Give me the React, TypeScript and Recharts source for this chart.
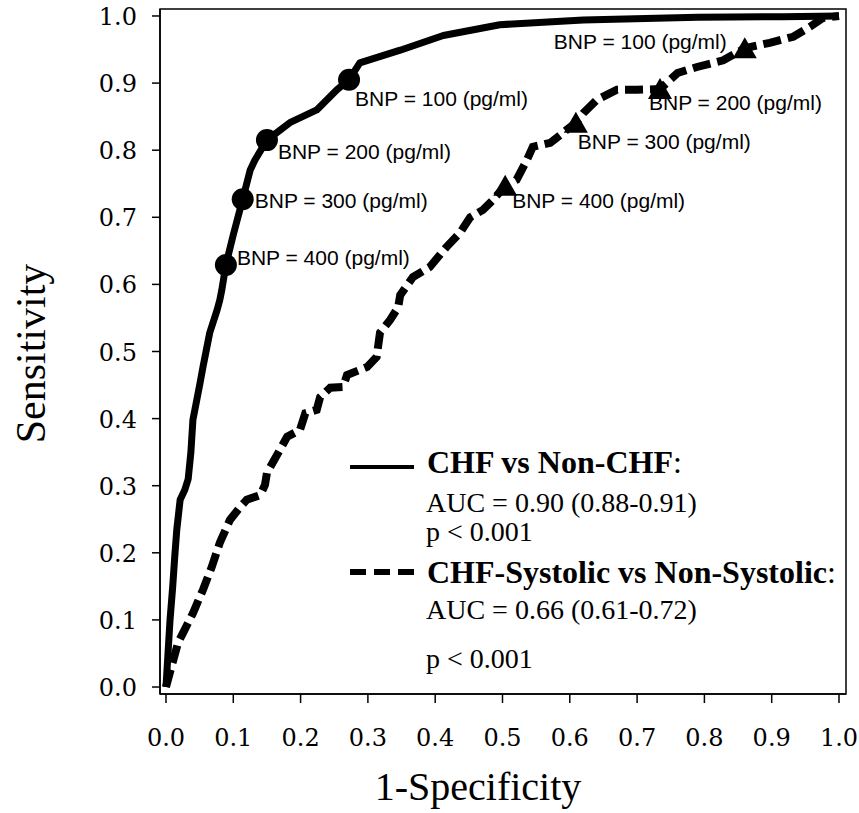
import React from 'react';
import { ComposedChart, Line, Scatter, XAxis, YAxis, ReferenceArea, Label } from 'recharts';

// ---- data ----
const axisTicks = [0, 0.1, 0.2, 0.3, 0.4, 0.5, 0.6, 0.7, 0.8, 0.9, 1.0];

// CHF vs Non-CHF ROC curve (1-specificity, sensitivity)
const chfFpr = [0, 0.003, 0.006, 0.010, 0.013, 0.016, 0.021, 0.028, 0.033, 0.037, 0.040, 0.050, 0.055, 0.065, 0.076, 0.080, 0.083, 0.089, 0.100, 0.114, 0.125, 0.132, 0.150, 0.184, 0.224, 0.254, 0.272, 0.288, 0.348, 0.412, 0.496, 0.620, 0.790, 0.917, 1.0];
const chfTpr = [0, 0.050, 0.100, 0.150, 0.194, 0.234, 0.279, 0.294, 0.310, 0.350, 0.398, 0.450, 0.477, 0.528, 0.562, 0.577, 0.592, 0.629, 0.674, 0.727, 0.770, 0.785, 0.815, 0.841, 0.860, 0.890, 0.905, 0.930, 0.949, 0.971, 0.987, 0.994, 0.998, 0.999, 1.0];

// CHF-Systolic vs Non-Systolic ROC curve
const sysFpr = [0, 0.008, 0.018, 0.025, 0.040, 0.055, 0.068, 0.080, 0.095, 0.110, 0.120, 0.140, 0.147, 0.150, 0.169, 0.180, 0.199, 0.207, 0.224, 0.229, 0.244, 0.263, 0.269, 0.299, 0.313, 0.318, 0.333, 0.345, 0.348, 0.367, 0.392, 0.417, 0.437, 0.452, 0.471, 0.486, 0.504, 0.521, 0.536, 0.545, 0.571, 0.590, 0.609, 0.620, 0.640, 0.670, 0.700, 0.734, 0.760, 0.789, 0.828, 0.860, 0.897, 0.932, 0.957, 0.976, 1.0];
const sysTpr = [0, 0.030, 0.066, 0.080, 0.110, 0.145, 0.179, 0.215, 0.249, 0.268, 0.279, 0.286, 0.301, 0.319, 0.353, 0.373, 0.383, 0.408, 0.413, 0.432, 0.446, 0.447, 0.465, 0.477, 0.492, 0.528, 0.547, 0.566, 0.584, 0.611, 0.626, 0.656, 0.677, 0.700, 0.711, 0.726, 0.747, 0.756, 0.785, 0.805, 0.811, 0.826, 0.841, 0.855, 0.875, 0.890, 0.890, 0.891, 0.915, 0.924, 0.934, 0.952, 0.960, 0.969, 0.984, 0.997, 1.0];

// BNP cut-off points
const bnpCutoffs = [100, 200, 300, 400];
const chfCutFpr = [0.272, 0.150, 0.114, 0.089];
const chfCutTpr = [0.905, 0.815, 0.727, 0.629];
const sysCutFpr = [0.860, 0.734, 0.609, 0.504];
const sysCutTpr = [0.952, 0.891, 0.841, 0.747];

const chfData = chfFpr.map((x, i) => ({ x, y: chfTpr[i] }));
const sysData = sysFpr.map((x, i) => ({ x, y: sysTpr[i] }));
const chfCuts = bnpCutoffs.map((bnp, i) => ({ bnp, x: chfCutFpr[i], y: chfCutTpr[i] }));
const sysCuts = bnpCutoffs.map((bnp, i) => ({ bnp, x: sysCutFpr[i], y: sysCutTpr[i] }));

// ---- layout / style ----
const X_DOMAIN: [number, number] = [-0.0089, 1.0104];
const Y_DOMAIN: [number, number] = [-0.0104, 1.0104];
const SERIF = '"Liberation Serif", "Times New Roman", serif';
const TICK_FONT = '"DejaVu Serif", serif';
const SANS = '"Liberation Sans", Arial, sans-serif';

// label offsets (dx, dy, anchor) relative to marker centre
const chfLabelPos: Record<number, [number, number, string]> = {
  100: [6, 26, 'start'],
  200: [11, 19, 'start'],
  300: [12, 9, 'start'],
  400: [11, 0, 'start'],
};
const sysLabelPos: Record<number, [number, number, string]> = {
  100: [-18, 1, 'end'],
  200: [-11, 21, 'start'],
  300: [2, 26, 'start'],
  400: [7, 22, 'start'],
};

const bnpText = (v: number) => `BNP = ${v} (pg/ml)`;

const CircleMarker = (props: any) => {
  const { cx, cy, payload } = props;
  const [dx, dy, anchor] = chfLabelPos[payload.bnp];
  return (
    <g>
      <circle cx={cx} cy={cy} r={11} fill="#000" />
      <text x={cx + dx} y={cy + dy} textAnchor={anchor as any} fontFamily={SANS} fontSize={21} fill="#000">
        {bnpText(payload.bnp)}
      </text>
    </g>
  );
};

const TriangleMarker = (props: any) => {
  const { cx, cy, payload } = props;
  const [dx, dy, anchor] = sysLabelPos[payload.bnp];
  const pts = `${cx},${cy - 11} ${cx - 12},${cy + 10} ${cx + 12},${cy + 10}`;
  return (
    <g>
      <polygon points={pts} fill="#000" />
      <text x={cx + dx} y={cy + dy} textAnchor={anchor as any} fontFamily={SANS} fontSize={21} fill="#000">
        {bnpText(payload.bnp)}
      </text>
    </g>
  );
};

const XTick = (props: any) => {
  const { x, y, payload } = props;
  return (
    <text x={x} y={y + 41} textAnchor="middle" fontFamily={TICK_FONT} fontSize={24} fill="#000">
      {Number(payload.value).toFixed(1)}
    </text>
  );
};

const YTick = (props: any) => {
  const { x, y, payload } = props;
  return (
    <text x={x - 13} y={y + 9} textAnchor="end" fontFamily={TICK_FONT} fontSize={24} fill="#000">
      {Number(payload.value).toFixed(1)}
    </text>
  );
};

const XLabel = (props: any) => {
  const vb = props.viewBox || { x: 160, y: 694, width: 686, height: 60 };
  return (
    <text x={vb.x + vb.width / 2 - 25} y={vb.y + 106} textAnchor="middle" fontFamily={SERIF} fontSize={40} fill="#000">
      1-Specificity
    </text>
  );
};

const YLabel = (props: any) => {
  const vb = props.viewBox || { x: 100, y: 9, width: 60, height: 685 };
  const x = vb.x - 55;
  const y = vb.y + vb.height / 2 + 2;
  return (
    <text x={x} y={y} transform={`rotate(-90, ${x}, ${y})`} textAnchor="middle" fontFamily={SERIF} fontSize={42} fill="#000">
      Sensitivity
    </text>
  );
};

const LegendBlock = () => (
  <g>
    <line x1={350} x2={414} y1={467} y2={467} stroke="#000" strokeWidth={4} />
    <text x={427} y={473} fontFamily={SERIF} fontSize={32} fill="#000">
      <tspan fontWeight="bold">CHF vs Non-CHF</tspan>
      <tspan>:</tspan>
    </text>
    <text x={426} y={512} fontFamily={SERIF} fontSize={28} fill="#000">AUC = 0.90 (0.88-0.91)</text>
    <text x={426} y={541} fontFamily={SERIF} fontSize={28} fill="#000">p &lt; 0.001</text>

    <line x1={350} x2={414} y1={572} y2={572} stroke="#000" strokeWidth={6} strokeDasharray="16 8" />
    <text x={427} y={583} fontFamily={SERIF} fontSize={32} fill="#000">
      <tspan fontWeight="bold">CHF-Systolic vs Non-Systolic</tspan>
      <tspan>:</tspan>
    </text>
    <text x={426} y={619} fontFamily={SERIF} fontSize={28} fill="#000">AUC = 0.66 (0.61-0.72)</text>
    <text x={426} y={668} fontFamily={SERIF} fontSize={28} fill="#000">p &lt; 0.001</text>
  </g>
);

export default function App() {
  return (
    <div style={{ position: 'absolute', left: 0, top: 0, width: 859, height: 813, background: '#fff' }}>
      <ComposedChart width={859} height={813} margin={{ top: 9, right: 13, bottom: 59, left: 100 }}>
        <XAxis
          type="number"
          dataKey="x"
          domain={X_DOMAIN}
          ticks={axisTicks}
          allowDataOverflow
          height={60}
          tickSize={9}
          tick={<XTick />}
          axisLine={{ stroke: '#000', strokeWidth: 1.5 }}
          tickLine={{ stroke: '#000', strokeWidth: 1.5 }}
          label={<Label content={<XLabel />} />}
        />
        <YAxis
          type="number"
          dataKey="y"
          domain={Y_DOMAIN}
          ticks={axisTicks}
          allowDataOverflow
          width={60}
          tickSize={8}
          tick={<YTick />}
          axisLine={{ stroke: '#000', strokeWidth: 1.5 }}
          tickLine={{ stroke: '#000', strokeWidth: 1.5 }}
          label={<Label content={<YLabel />} />}
        />
        <ReferenceArea
          x1={X_DOMAIN[0]}
          x2={X_DOMAIN[1]}
          y1={Y_DOMAIN[0]}
          y2={Y_DOMAIN[1]}
          fill="none"
          fillOpacity={0}
          stroke="#000"
          strokeWidth={1.5}
          ifOverflow="visible"
        />
        <Line
          data={sysData}
          dataKey="y"
          type="linear"
          stroke="#000"
          strokeWidth={8}
          strokeDasharray="18 7"
          strokeLinecap="butt"
          dot={false}
          activeDot={false}
          isAnimationActive={false}
        />
        <Line
          data={chfData}
          dataKey="y"
          type="linear"
          stroke="#000"
          strokeWidth={7}
          strokeLinejoin="round"
          dot={false}
          activeDot={false}
          isAnimationActive={false}
        />
        <Scatter data={chfCuts} dataKey="y" shape={<CircleMarker />} isAnimationActive={false} />
        <Scatter data={sysCuts} dataKey="y" shape={<TriangleMarker />} isAnimationActive={false} />
        <LegendBlock />
      </ComposedChart>
    </div>
  );
}
